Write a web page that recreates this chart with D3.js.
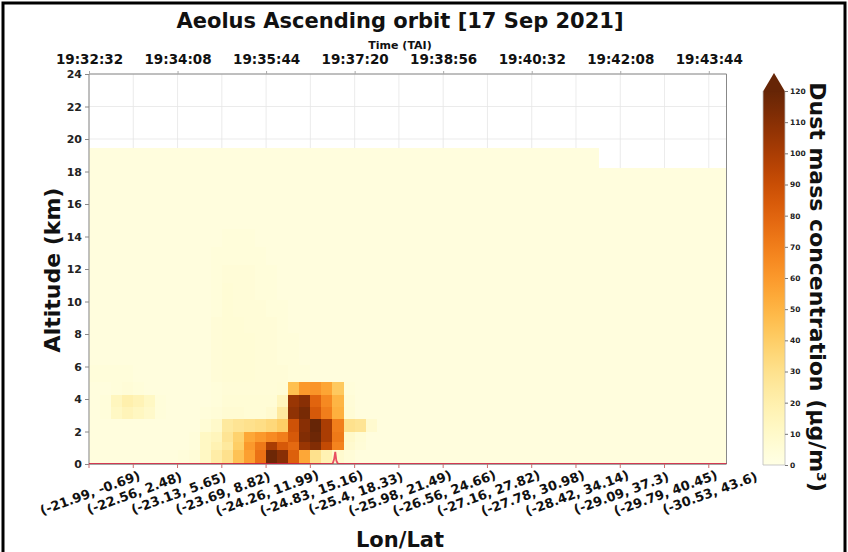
<!DOCTYPE html>
<html><head><meta charset="utf-8">
<script src="https://cdn.jsdelivr.net/npm/d3@7/dist/d3.min.js"></script>
<style>body{margin:0;background:#fff}text{font-family:"DejaVu Sans",sans-serif;font-weight:bold}</style>
</head><body>
<svg id="c" width="848" height="552"></svg>
<script>
// ---------------- data ----------------
const titleText = "Aeolus Ascending orbit [17 Sep 2021]";
const lonLatLabels = ["(-21.99, -0.69)","(-22.56, 2.48)","(-23.13, 5.65)","(-23.69, 8.82)","(-24.26, 11.99)","(-24.83, 15.16)","(-25.4, 18.33)","(-25.98, 21.49)","(-26.56, 24.66)","(-27.16, 27.82)","(-27.78, 30.98)","(-28.42, 34.14)","(-29.09, 37.3)","(-29.79, 40.45)","(-30.53, 43.6)"];
const lonLatTickIdx = [0,4,8,12,16,20,24,28,32,36,40,44,48,52,56];
const timeLabels = ["19:32:32","19:34:08","19:35:44","19:37:20","19:38:56","19:40:32","19:42:08","19:43:44"];
const timeTickIdx = [0,8,16,24,32,40,48,56];
const altTicks = [0,2,4,6,8,10,12,14,16,18,20,22,24];
const cbTicks = [0,10,20,30,40,50,60,70,80,90,100,110,120];
const nProfiles = 58;
const xExtent = 57.6;
// altitude bin edges (km), bottom to top
const altEdges = [0,0.9,1.4,2.0,2.8,3.55,4.3,5.1,6.1,7.1,8.1,9.1,10.1,11.2,12.3,13.4,14.5,15.6,16.7,17.5,18.2,19.45];
// dust mass concentration (µg/m3), one row per altitude bin (bottom first), one value per profile
const dustRows = [
 [3,3,3,3,3,3,3,3,4,5, 12,22,30,45,58,75,118,110,82,55, 30,18,8,5,3,3,3,3,3,3, 3,3,3,3,3,3,3,3,3,3, 3,3,3,3,3,3,3,3,3,3, 3,3,3,3,3,3,3,3],
 [3,3,3,3,3,3,3,3,3,4, 12,18,25,40,60,72,100,85,78,105, 112,92,68,8,5,3,3,3,3,3, 3,3,3,3,3,3,3,3,3,3, 3,3,3,3,3,3,3,3,3,3, 3,3,3,3,3,3,3,3],
 [3,3,3,3,3,3,3,3,3,4, 12,15,28,38,55,60,65,70,85,112, 118,100,72,10,6,3,3,3,3,3, 3,3,3,3,3,3,3,3,3,3, 3,3,3,3,3,3,3,3,3,3, 3,3,3,3,3,3,3,3],
 [3,3,3,3,3,3,3,3,3,3, 6,10,25,28,30,32,35,40,88,110, 120,100,70,30,28,8,3,3,3,3, 3,3,3,3,3,3,3,3,3,3, 3,3,3,3,3,3,3,3,3,3, 3,3,3,3,3,3,3,3],
 [3,4,12,16,13,10,4,3,3,3, 4,5,7,7,6,6,8,25,108,115, 85,70,52,6,3,3,3,3,3,3, 3,3,3,3,3,3,3,3,3,3, 3,3,3,3,3,3,3,3,3,3, 3,3,3,3,3,3,3,3],
 [3,4,14,20,17,12,4,3,3,3, 3,4,6,6,6,6,6,15,105,110, 80,66,50,5,3,3,3,3,3,3, 3,3,3,3,3,3,3,3,3,3, 3,3,3,3,3,3,3,3,3,3, 3,3,3,3,3,3,3,3],
 [3,3,4,5,4,3,3,3,3,3, 3,4,5,5,5,5,5,6,46,60, 62,56,42,4,3,3,3,3,3,3, 3,3,3,3,3,3,3,3,3,3, 3,3,3,3,3,3,3,3,3,3, 3,3,3,3,3,3,3,3],
 [4,4,4,4,3,3,3,3,3,3, 3,5,6,6,6,5,5,5,4,4, 3,3,3,3,3,3,3,3,3,3, 3,3,3,3,3,3,3,3,3,3, 3,3,3,3,3,3,3,3,3,3, 3,3,3,3,3,3,3,3],
 [3,3,3,3,3,3,3,3,3,3, 3,5,6,6,6,5,5,4,4,3, 3,3,3,3,3,3,3,3,3,3, 3,3,3,3,3,3,3,3,3,3, 3,3,3,3,3,3,3,3,3,3, 3,3,3,3,3,3,3,3],
 [3,3,3,3,3,3,3,3,3,3, 3,5,6,6,6,5,5,4,4,3, 3,3,3,3,3,3,3,3,3,3, 3,3,3,3,3,3,3,3,3,3, 3,3,3,3,3,3,3,3,3,3, 3,3,3,3,3,3,3,3],
 [3,3,3,3,3,3,3,3,3,3, 3,5,6,6,5,5,5,4,3,3, 3,3,3,3,3,3,3,3,3,3, 3,3,3,3,3,3,3,3,3,3, 3,3,3,3,3,3,3,3,3,3, 3,3,3,3,3,3,3,3],
 [3,3,3,3,3,3,3,3,3,3, 3,4,6,5,5,5,4,4,3,3, 3,3,3,3,3,3,3,3,3,3, 3,3,3,3,3,3,3,3,3,3, 3,3,3,3,3,3,3,3,3,3, 3,3,3,3,3,3,3,3],
 [3,3,3,3,3,3,3,3,3,3, 3,4,6,5,5,4,4,3,3,3, 3,3,3,3,3,3,3,3,3,3, 3,3,3,3,3,3,3,3,3,3, 3,3,3,3,3,3,3,3,3,3, 3,3,3,3,3,3,3,3],
 [3,3,3,3,3,3,3,3,3,3, 3,4,5,5,5,4,4,3,3,3, 3,3,3,3,3,3,3,3,3,3, 3,3,3,3,3,3,3,3,3,3, 3,3,3,3,3,3,3,3,3,3, 3,3,3,3,3,3,3,3],
 [3,3,3,3,3,3,3,3,3,3, 3,4,4,4,4,4,3,3,3,3, 3,3,3,3,3,3,3,3,3,3, 3,3,3,3,3,3,3,3,3,3, 3,3,3,3,3,3,3,3,3,3, 3,3,3,3,3,3,3,3],
 [3,3,3,3,3,3,3,3,3,3, 3,3,4,4,4,3,3,3,3,3, 3,3,3,3,3,3,3,3,3,3, 3,3,3,3,3,3,3,3,3,3, 3,3,3,3,3,3,3,3,3,3, 3,3,3,3,3,3,3,3],
 [3,3,3,3,3,3,3,3,3,3, 3,3,3,3,3,3,3,3,3,3, 3,3,3,3,3,3,3,3,3,3, 3,3,3,3,3,3,3,3,3,3, 3,3,3,3,3,3,3,3,3,3, 3,3,3,3,3,3,3,3],
 [3,3,3,3,3,3,3,3,3,3, 3,3,3,3,3,3,3,3,3,3, 3,3,3,3,3,3,3,3,3,3, 3,3,3,3,3,3,3,3,3,3, 3,3,3,3,3,3,3,3,3,3, 3,3,3,3,3,3,3,3],
 [3,3,3,3,3,3,3,3,3,3, 3,3,3,3,3,3,3,3,3,3, 3,3,3,3,3,3,3,3,3,3, 3,3,3,3,3,3,3,3,3,3, 3,3,3,3,3,3,3,3,3,3, 3,3,3,3,3,3,3,3],
 [3,3,3,3,3,3,3,3,3,3, 3,3,3,3,3,3,3,3,3,3, 3,3,3,3,3,3,3,3,3,3, 3,3,3,3,3,3,3,3,3,3, 3,3,3,3,3,3,3,3,3,3, 3,3,3,3,3,3,3,3],
 [3,3,3,3,3,3,3,3,3,3, 3,3,3,3,3,3,3,3,3,3, 3,3,3,3,3,3,3,3,3,3, 3,3,3,3,3,3,3,3,3,3, 3,3,3,3,3,3,null,null,null,null, null,null,null,null,null,null,null,null]
];
// surface elevation along track (km)
const elevIdx = [0,22.0,22.15,22.25,22.35,22.5,58];
const elevKm  = [0,0,0.3,0.75,0.2,0,0];

// ---------------- drawing ----------------
const svg = d3.select("#c");
const W = 848, H = 552;
const plot = {l:89, r:726.5, t:74, b:464};
const x = d3.scaleLinear().domain([0, xExtent]).range([plot.l, plot.r]);
const y = d3.scaleLinear().domain([0, 24]).range([plot.b, plot.t]);
const color = d3.scaleSequential(d3.interpolateYlOrBr).domain([0,120]).clamp(true);

svg.append("rect").attr("width",W).attr("height",H).attr("fill","#fff");
svg.append("defs").append("clipPath").attr("id","pc").append("rect")
  .attr("x",plot.l).attr("y",plot.t).attr("width",plot.r-plot.l).attr("height",plot.b-plot.t);

// grid
const g = svg.append("g");
g.selectAll("line.vg").data(lonLatTickIdx).join("line")
  .attr("x1",d=>x(d)).attr("x2",d=>x(d)).attr("y1",plot.t).attr("y2",plot.b)
  .attr("stroke","#e6e6e6").attr("stroke-width",0.8);
g.selectAll("line.hg").data(altTicks).join("line")
  .attr("y1",d=>y(d)).attr("y2",d=>y(d)).attr("x1",plot.l).attr("x2",plot.r)
  .attr("stroke","#e6e6e6").attr("stroke-width",0.8);

// heatmap cells
const cells = [];
dustRows.forEach((row, r) => row.forEach((v, c) => { if (v !== null) cells.push({r, c, v}); }));
svg.append("g").attr("clip-path","url(#pc)").selectAll("rect").data(cells).join("rect")
  .attr("x", d => x(d.c))
  .attr("width", d => x(d.c+1) - x(d.c) + 0.5)
  .attr("y", d => y(altEdges[d.r+1]))
  .attr("height", d => y(altEdges[d.r]) - y(altEdges[d.r+1]) + 0.5)
  .attr("fill", d => color(d.v))
  .attr("shape-rendering","crispEdges");

// spines
const sp = svg.append("g").attr("fill","none");
sp.append("line").attr("x1",plot.l).attr("x2",plot.l).attr("y1",plot.t).attr("y2",plot.b).attr("stroke","#888");
sp.append("line").attr("x1",plot.r).attr("x2",plot.r).attr("y1",plot.t).attr("y2",plot.b).attr("stroke","#888");
sp.append("line").attr("x1",plot.l).attr("x2",plot.r).attr("y1",plot.t).attr("y2",plot.t).attr("stroke","#888");
sp.append("line").attr("x1",plot.l).attr("x2",plot.r).attr("y1",plot.b).attr("y2",plot.b).attr("stroke","#555");

// surface elevation (red)
const elevLine = d3.line().x((d,i)=>x(elevIdx[i])).y((d,i)=>y(elevKm[i]));
svg.append("path").datum(elevIdx).attr("d", elevLine).attr("clip-path","url(#pc)")
  .attr("fill","none").attr("stroke","#e0143c").attr("stroke-width",1.8).attr("stroke-opacity",0.75);

// left axis
const ya = svg.append("g").attr("transform",`translate(${plot.l},0)`)
  .call(d3.axisLeft(y).tickValues(altTicks).tickSize(4).tickPadding(3));
ya.select(".domain").remove();
ya.selectAll("line").attr("stroke","#888");
ya.selectAll("text").attr("font-size","11px").attr("fill","#222");

// top axis (time)
const ta = svg.append("g").attr("transform",`translate(0,${plot.t})`)
  .call(d3.axisTop(x).tickValues(timeTickIdx).tickFormat((d,i)=>timeLabels[i]).tickSize(3).tickPadding(7));
ta.select(".domain").remove();
ta.selectAll("line").attr("stroke","#aaa");
ta.selectAll("text").attr("font-size","13.5px").attr("fill","#111");

// bottom axis (lon/lat)
const ba = svg.append("g");
ba.selectAll("line").data(lonLatTickIdx).join("line")
  .attr("x1",d=>x(d)).attr("x2",d=>x(d)).attr("y1",plot.b).attr("y2",plot.b+4)
  .attr("stroke","#c87070");
ba.selectAll("text").data(lonLatTickIdx).join("text")
  .attr("transform", d => `translate(${x(d)+1},${493}) rotate(-20)`)
  .attr("text-anchor","middle").attr("dominant-baseline","central")
  .attr("font-size","13px").attr("fill","#111")
  .text((d,i)=>lonLatLabels[i]);

// titles
svg.append("text").attr("x",400).attr("y",28).attr("text-anchor","middle").attr("font-size","21px").attr("fill","#111").text(titleText);
svg.append("text").attr("x",400).attr("y",49).attr("text-anchor","middle").attr("font-size","11px").attr("fill","#111").text("Time (TAI)");
svg.append("text").attr("x",400).attr("y",547).attr("text-anchor","middle").attr("font-size","21px").attr("fill","#111").text("Lon/Lat");
svg.append("text").attr("transform","translate(60,270) rotate(-90)").attr("text-anchor","middle").attr("font-size","22px").attr("fill","#111").text("Altitude (km)");

// colorbar
const cb = {x:763, w:22};
const cy = d3.scaleLinear().domain([0,120]).range([465, 91]);
const defs = svg.append("defs");
const grad = defs.append("linearGradient").attr("id","cbg").attr("x1",0).attr("x2",0).attr("y1",1).attr("y2",0);
d3.range(0,1.0001,0.05).forEach(t => grad.append("stop").attr("offset",t).attr("stop-color",color(t*120)));
svg.append("rect").attr("x",cb.x).attr("y",cy(120)).attr("width",cb.w).attr("height",cy(0)-cy(120)).attr("fill","url(#cbg)");
svg.append("path").attr("d",`M${cb.x},${cy(120)+0.5}L${cb.x+cb.w},${cy(120)+0.5}L${cb.x+cb.w/2},${cy(120)-18}Z`).attr("fill",color(120));
svg.append("path").attr("d",`M${cb.x},${cy(120)}L${cb.x},${cy(0)}L${cb.x+cb.w},${cy(0)}L${cb.x+cb.w},${cy(120)}`).attr("fill","none").attr("stroke","#bbb").attr("stroke-width",0.8);
const ca = svg.append("g").attr("transform",`translate(${cb.x+cb.w},0)`)
  .call(d3.axisRight(cy).tickValues(cbTicks).tickSize(3).tickPadding(2));
ca.select(".domain").remove();
ca.selectAll("line").attr("stroke","#777");
ca.selectAll("text").attr("font-size","7.5px").attr("fill","#222");
svg.append("text").attr("transform","translate(810,287) rotate(90)").attr("text-anchor","middle").attr("font-size","22px").attr("fill","#111")
  .text("Dust mass concentration (μg/m³)");

// outer frame
svg.append("path").attr("d",`M3,${H}L3,3L845,3L845,${H}`).attr("fill","none").attr("stroke","#000").attr("stroke-width",3);
</script>
</body></html>
